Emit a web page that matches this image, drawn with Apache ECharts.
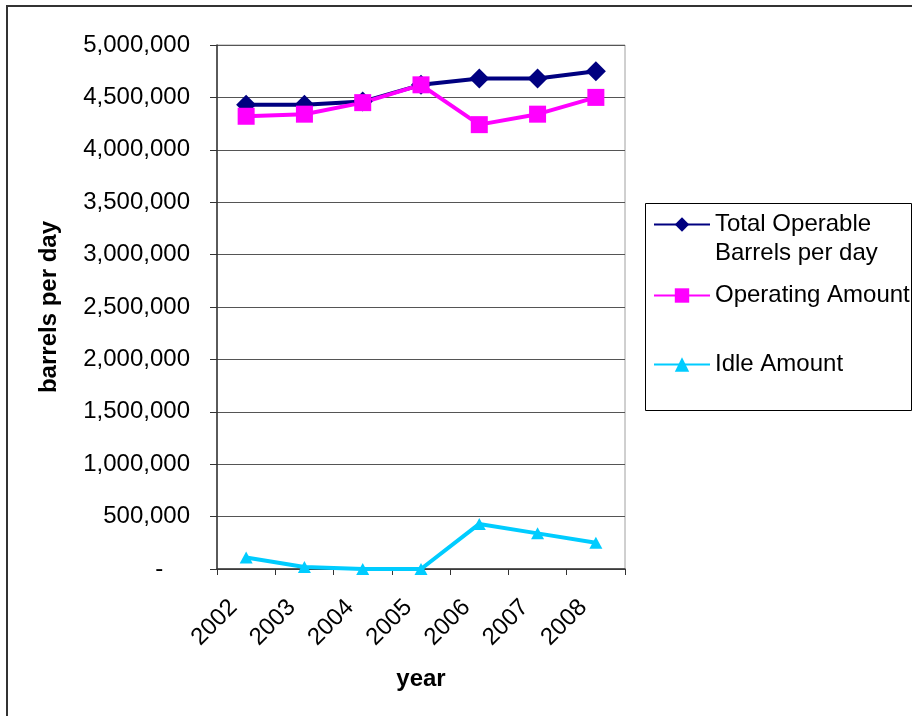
<!DOCTYPE html>
<html>
<head>
<meta charset="utf-8">
<script src="https://cdn.jsdelivr.net/npm/echarts@6/dist/echarts.min.js"></script>
<style>
  html, body { margin: 0; padding: 0; background: #fff; }
  #chart { width: 912px; height: 716px; }
</style>
</head>
<body>
<div id="chart"></div>
<script>
// Refinery capacity, barrels per day
const years = ['2002', '2003', '2004', '2005', '2006', '2007', '2008'];
const totalOperable = [4430000, 4430000, 4460000, 4620000, 4680000, 4680000, 4750000];
const operatingAmount = [4320000, 4340000, 4450000, 4620000, 4240000, 4340000, 4500000];
const idleAmount = [110000, 20000, 0, 0, 430000, 340000, 250000];

const seriesNames = ['Total Operable Barrels per day', 'Operating Amount', 'Idle Amount'];

const FONT = "'Liberation Sans', Arial, sans-serif";
const chart = echarts.init(document.getElementById('chart'), null, { renderer: 'canvas' });

const legendText = { color: '#000', fontSize: 24, fontFamily: FONT, lineHeight: 29 };

chart.setOption({
  animation: false,
  backgroundColor: '#fff',
  grid: {
    left: 217, top: 45, width: 408, height: 524,
    show: true, borderColor: '#a0a0a0', borderWidth: 1, backgroundColor: 'transparent'
  },
  graphic: [
    { type: 'rect', shape: { x: 7, y: 6, width: 1000, height: 1000 }, style: { fill: 'none', stroke: '#333', lineWidth: 2 }, silent: true },
    { type: 'rect', shape: { x: 645.5, y: 203.5, width: 266, height: 207 }, style: { fill: 'none', stroke: '#000', lineWidth: 1 }, silent: true }
  ],
  legend: [
    {
      // two-line entry: a blank first line keeps the marker level with "Total Operable"
      data: [seriesNames[0]], left: 653, top: 181, padding: 0,
      itemWidth: 56, itemHeight: 18,
      formatter: () => ' \nTotal Operable\nBarrels per day',
      textStyle: legendText
    },
    {
      data: [seriesNames[1]], left: 653, top: 281, padding: 0,
      itemWidth: 56, itemHeight: 18, textStyle: legendText
    },
    {
      data: [seriesNames[2]], left: 653, top: 350, padding: 0,
      itemWidth: 56, itemHeight: 18, textStyle: legendText
    }
  ],
  xAxis: {
    type: 'category',
    data: years,
    boundaryGap: true,
    name: 'year',
    nameLocation: 'middle',
    nameGap: 98,
    nameTextStyle: { color: '#000', fontSize: 24, fontWeight: 'bold', fontFamily: FONT },
    axisLine: { lineStyle: { color: '#333', width: 1.5 } },
    axisTick: { show: true, length: 6, lineStyle: { color: '#333' } },
    axisLabel: {
      rotate: 45, interval: 0, margin: 22, padding: [0, 18, 0, 0],
      color: '#000', fontSize: 24, fontFamily: FONT
    },
    splitLine: { show: false }
  },
  yAxis: {
    type: 'value',
    min: 0, max: 5000000, interval: 500000,
    name: 'barrels per day',
    nameLocation: 'middle',
    nameGap: 156,
    nameTextStyle: { color: '#000', fontSize: 24, fontWeight: 'bold', fontFamily: FONT },
    axisLine: { show: true, lineStyle: { color: '#333', width: 1.5 } },
    axisTick: { show: true, length: 7, lineStyle: { color: '#333' } },
    axisLabel: {
      margin: 27, color: '#000', fontSize: 24, fontFamily: FONT,
      formatter: v => v === 0 ? '-    ' : v.toLocaleString('en-US')
    },
    splitLine: { show: true, lineStyle: { color: '#555', width: 1 } }
  },
  series: [
    {
      name: seriesNames[0], type: 'line', data: totalOperable,
      symbol: 'diamond', symbolSize: [20, 20],
      lineStyle: { color: '#000080', width: 4 },
      itemStyle: { color: '#000080' }
    },
    {
      name: seriesNames[1], type: 'line', data: operatingAmount,
      symbol: 'rect', symbolSize: 17,
      lineStyle: { color: '#FF00FF', width: 4 },
      itemStyle: { color: '#FF00FF' }
    },
    {
      name: seriesNames[2], type: 'line', data: idleAmount,
      symbol: 'triangle', symbolSize: [13, 12],
      lineStyle: { color: '#00CCFF', width: 4 },
      itemStyle: { color: '#00CCFF' }
    }
  ]
});
</script>
</body>
</html>
